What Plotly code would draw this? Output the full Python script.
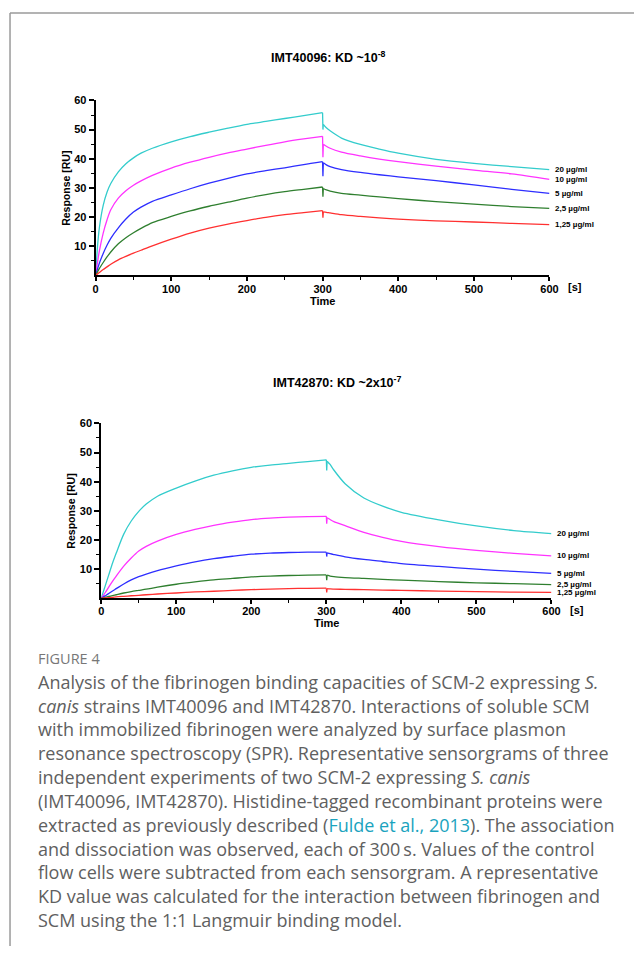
import plotly.graph_objects as go

# ---------------- data ----------------
time_s = [0, 2.5, 5, 10, 15, 20, 30, 40, 50, 60, 75, 100, 125, 150, 175, 200, 225, 250, 275,
          300, 300.5, 301, 305, 310, 325, 350, 375, 400, 450, 500, 550, 600]

concentrations = ["20 µg/ml", "10 µg/ml", "5 µg/ml", "2,5 µg/ml", "1,25 µg/ml"]

# IMT40096 (top panel)
imt40096_20 = [0, 10, 16.5, 24, 28.5, 31.5, 35.5, 38.3, 40.3, 41.9, 43.6, 45.8, 47.6, 49.1, 50.5, 51.8, 52.8, 53.8, 54.8,
               55.8, 50.0, 51.8, 50.6, 49.6, 47.1, 44.9, 43.3, 41.9, 39.8, 38.4, 37.3, 36.3]
imt40096_10 = [0, 4.5, 8.5, 14.5, 19, 22.5, 26.5, 29.0, 30.9, 32.4, 34.3, 36.8, 38.8, 40.5, 42.0, 43.3, 44.6, 45.8, 46.8,
               47.7, 40.5, 45.0, 44.3, 43.6, 42.3, 41.0, 39.9, 39.0, 37.5, 36.1, 34.8, 32.9]
imt40096_5 = [0, 2.2, 4.2, 7.5, 10.3, 12.7, 16.3, 19.3, 21.7, 23.4, 25.4, 27.6, 29.7, 31.6, 33.3, 34.8, 35.9, 36.9, 38.0,
              39.0, 34.0, 38.6, 37.9, 37.3, 36.3, 35.3, 34.5, 33.8, 32.5, 31.0, 29.5, 28.1]
imt40096_2_5 = [0, 1.2, 2.4, 4.4, 6.3, 8.0, 10.8, 12.9, 14.6, 16.1, 18.1, 20.2, 22.1, 23.7, 25.1, 26.5, 27.7, 28.7, 29.5,
                30.3, 27.0, 29.8, 29.3, 28.9, 28.1, 27.5, 26.9, 26.3, 25.3, 24.4, 23.6, 23.0]
imt40096_1_25 = [0, 0.5, 1.0, 2.0, 2.9, 3.8, 5.3, 6.5, 7.6, 8.6, 10.1, 12.4, 14.5, 16.2, 17.6, 18.8, 19.9, 20.8, 21.5,
                 22.2, 19.8, 21.8, 21.6, 21.4, 20.8, 20.2, 19.7, 19.3, 18.7, 18.3, 17.8, 17.4]

# IMT42870 (bottom panel)
imt42870_20 = [0, 2, 4, 8, 12, 15.5, 22, 26.5, 29.8, 32.3, 35, 37.8, 40.2, 42.2, 43.7, 44.9, 45.7, 46.3, 46.9,
               47.5, 43.8, 47.0, 45.9, 44.0, 39.3, 34.4, 31.6, 29.5, 26.9, 24.8, 23.2, 22.2]
imt42870_10 = [0, 0.9, 1.8, 3.8, 5.8, 7.6, 11.0, 13.8, 16.2, 17.8, 19.6, 21.9, 23.6, 25.0, 26.1, 27.0, 27.5, 27.8, 28.0,
               28.1, 25.6, 27.6, 27.0, 26.3, 24.9, 22.6, 20.9, 19.5, 17.7, 16.4, 15.4, 14.5]
imt42870_5 = [0, 0.4, 0.8, 1.6, 2.5, 3.3, 4.9, 6.3, 7.4, 8.3, 9.5, 11.1, 12.5, 13.6, 14.4, 15.1, 15.5, 15.7, 15.8,
              15.8, 14.3, 15.6, 15.3, 15.0, 14.2, 13.3, 12.6, 11.9, 10.9, 10.0, 9.2, 8.5]
imt42870_2_5 = [0, 0.15, 0.3, 0.6, 0.9, 1.2, 1.8, 2.3, 2.7, 3.1, 3.8, 4.8, 5.6, 6.3, 6.8, 7.3, 7.6, 7.8, 7.9,
                8.0, 6.2, 7.9, 7.6, 7.4, 7.1, 6.8, 6.5, 6.2, 5.7, 5.3, 5.0, 4.7]
imt42870_1_25 = [0, 0.05, 0.1, 0.2, 0.3, 0.45, 0.65, 0.85, 1.0, 1.2, 1.45, 1.8, 2.15, 2.4, 2.7, 2.95, 3.15, 3.3, 3.4,
                 3.45, 2.0, 3.3, 3.2, 3.15, 3.05, 2.95, 2.8, 2.7, 2.45, 2.25, 2.1, 2.0]

x_tick_vals = [0, 100, 200, 300, 400, 500, 600]
x_minor_vals = [50, 150, 250, 350, 450, 550]
y_tick_vals = [10, 20, 30, 40, 50, 60]
y_minor_vals = [5, 15, 25, 35, 45, 55]

titles = ["IMT40096: KD ~10<sup>-8</sup>", "IMT42870: KD ~2x10<sup>-7</sup>"]

# ---------------- styling ----------------
# page body keeps an 8px margin, so the figure is 16px smaller than the window
OFF = 8
W, H = 642 - 2 * OFF, 954 - 2 * OFF
colors = ["#33CCCC", "#FF33FF", "#2E2EFF", "#2F7F2F", "#FF3030"]
FONT = "Liberation Sans, Arial, sans-serif"

panels = [
    dict(series=[imt40096_20, imt40096_10, imt40096_5, imt40096_2_5, imt40096_1_25],
         xpx=(94.3, 557.0), ypx=(271.0, 95.0), title_xy=(332, 51), resp_x=64, time_y=297),
    dict(series=[imt42870_20, imt42870_10, imt42870_5, imt42870_2_5, imt42870_1_25],
         xpx=(100.0, 559.0), ypx=(596.0, 420.0), title_xy=(340, 378), resp_x=69, time_y=621),
]

# index ranges: association (up to 300 s), injection-switch spike, dissociation
i_end = time_s.index(300)
i_after = time_s.index(301)
segments = [(0, i_end + 1, "spline"), (i_end, i_after + 1, "linear"), (i_after, len(time_s), "spline")]


def px(x):
    return (x - OFF) / W


def py(y):
    return 1 - (y - OFF) / H


fig = go.Figure()
annotations = []
layout_axes = {}

for i, p in enumerate(panels):
    n = "" if i == 0 else str(i + 1)
    xa, ya = "x" + n, "y" + n
    for s, c, name in zip(p["series"], colors, concentrations):
        for a, b, shape in segments:
            fig.add_trace(go.Scatter(x=time_s[a:b], y=s[a:b], mode="lines", name=name, xaxis=xa, yaxis=ya,
                                     line=dict(color=c, width=1.3, shape=shape, smoothing=0.8)
                                     if shape == "spline" else dict(color=c, width=1.3),
                                     showlegend=False, cliponaxis=False))
        annotations.append(dict(x=time_s[-1], y=s[-1], xref=xa, yref=ya, text="<b>%s</b>" % name,
                                showarrow=False, xanchor="left", yanchor="middle", xshift=4,
                                font=dict(family=FONT, size=8, color="black")))
    layout_axes["xaxis" + n] = dict(
        domain=[px(p["xpx"][0]), px(p["xpx"][1])], anchor=ya, range=[0, 600],
        tickmode="array", tickvals=x_tick_vals, ticks="outside", ticklen=4, tickwidth=1.5,
        ticklabelstandoff=-2,
        tickcolor="black", showline=True, linecolor="black", linewidth=2, showgrid=False, zeroline=False,
        tickfont=dict(family=FONT, size=11, color="black", weight="bold"),
        minor=dict(tickmode="array", tickvals=x_minor_vals, ticks="outside",
                   ticklen=3, tickwidth=1.2, tickcolor="black"))
    layout_axes["yaxis" + n] = dict(
        domain=[py(p["ypx"][0]), py(p["ypx"][1])], anchor=xa, range=[0, 60],
        tickmode="array", tickvals=y_tick_vals, ticks="outside", ticklen=5,
        tickwidth=1.5, tickcolor="black", showline=True, linecolor="black", linewidth=2,
        showgrid=False, zeroline=False,
        tickfont=dict(family=FONT, size=11, color="black", weight="bold"),
        minor=dict(tickmode="array", tickvals=y_minor_vals, ticks="outside",
                   ticklen=3, tickwidth=1.2, tickcolor="black"))
    annotations.append(dict(x=px(p["title_xy"][0]), y=py(p["title_xy"][1]), xref="paper", yref="paper",
                            text="<b>%s</b>" % titles[i], showarrow=False, xanchor="center", yanchor="middle",
                            font=dict(family=FONT, size=12.5, color="black")))
    annotations.append(dict(x=px(p["resp_x"]), y=py((p["ypx"][0] + p["ypx"][1]) / 2), xref="paper", yref="paper",
                            text="<b>Response [RU]</b>", textangle=-90, showarrow=False,
                            xanchor="center", yanchor="middle", font=dict(family=FONT, size=10.5, color="black")))
    annotations.append(dict(x=px((p["xpx"][0] + p["xpx"][1]) / 2), y=py(p["time_y"]), xref="paper", yref="paper",
                            text="<b>Time</b>", showarrow=False, xanchor="center", yanchor="middle",
                            font=dict(family=FONT, size=11, color="black")))
    annotations.append(dict(x=px(p["xpx"][1] + 17), y=py(p["ypx"][0] + 12), xref="paper", yref="paper",
                            text="<b>[s]</b>", showarrow=False, xanchor="left", yanchor="middle",
                            font=dict(family=FONT, size=11, color="black")))

# caption
CAP_FONT = "Open Sans, Noto Sans, sans-serif"
cap_color = "#606060"
annotations.append(dict(x=px(33), y=py(657), xref="paper", yref="paper", text="FIGURE 4", showarrow=False,
                        xanchor="left", yanchor="middle",
                        font=dict(family=CAP_FONT, size=14.5, color="#777777")))
caption_lines = [
    "Analysis of the fibrinogen binding capacities of SCM-2 expressing <i>S.</i>",
    "<i>canis</i> strains IMT40096 and IMT42870. Interactions of soluble SCM",
    "with immobilized fibrinogen were analyzed by surface plasmon",
    "resonance spectroscopy (SPR). Representative sensorgrams of three",
    "independent experiments of two SCM-2 expressing <i>S. canis</i>",
    "(IMT40096, IMT42870). Histidine-tagged recombinant proteins were",
    "extracted as previously described (<span style='color:#1AA3BE'>Fulde et al., 2013</span>). The association",
    "and dissociation was observed, each of 300\u2009s. Values of the control",
    "flow cells were subtracted from each sensorgram. A representative",
    "KD value was calculated for the interaction between fibrinogen and",
    "SCM using the 1:1 Langmuir binding model.",
]
for k, line in enumerate(caption_lines):
    annotations.append(dict(x=px(33), y=py(680 + 24 * k), xref="paper", yref="paper", text=line,
                            showarrow=False, xanchor="left", yanchor="middle",
                            font=dict(family=CAP_FONT, size=18.0, color=cap_color)))

shapes = [
    dict(type="line", xref="paper", yref="paper", x0=px(7), x1=px(650), y0=py(7), y1=py(7),
         line=dict(color="#9a9a9a", width=1.5)),
    dict(type="line", xref="paper", yref="paper", x0=px(7), x1=px(7), y0=py(7), y1=py(960),
         line=dict(color="#9a9a9a", width=1.5)),
]

fig.update_layout(width=W, height=H, margin=dict(l=0, r=0, t=0, b=0),
                  paper_bgcolor="white", plot_bgcolor="white",
                  annotations=annotations, shapes=shapes, showlegend=False, **layout_axes)

fig.write_html("out.html")
